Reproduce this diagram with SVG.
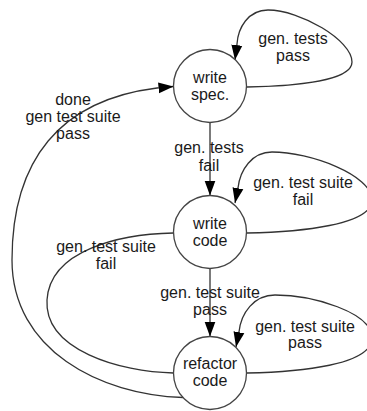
<svg xmlns="http://www.w3.org/2000/svg" width="367" height="411" viewBox="0 0 367 411">
  <defs>
    <style>
      .node circle { fill: #ffffff; stroke: #444444; stroke-width: 1.3; }
      .edge { fill: none; stroke: #333333; stroke-width: 1.3; marker-end: url(#arrow); }
      .plain { fill: none; stroke: #333333; stroke-width: 1.3; }
      text { font-family: "Liberation Sans", Arial, sans-serif; font-size: 16px; fill: #1a1a1a; text-anchor: middle; }
    </style>
    <marker id="arrow" markerUnits="userSpaceOnUse" markerWidth="16" markerHeight="12" refX="15" refY="5.5" orient="auto" viewBox="0 0 16 11">
      <path d="M0,0 L15,5.5 L0,11 Z" fill="#000000"/>
    </marker>
  </defs>

  <!-- connectors -->
  <g id="edges">
    <!-- write spec. -> write code -->
    <path class="edge" d="M210,122.5 L210,195.5"/>
    <!-- write code -> refactor code -->
    <path class="edge" d="M210,268.5 L210,336.5"/>
    <!-- self loop: write spec. -->
    <path class="edge" d="M247,87 C300,86 352,80 352,62 C352,40 300,10 268,10 C248,10 238,28 237,44 L235,60"/>
    <!-- self loop: write code -->
    <path class="edge" d="M247,233 C300,232 372,225 372,200 C372,175 310,152 272,152 C252,152 240,170 238,188 L235,203"/>
    <!-- self loop: refactor code -->
    <path class="edge" d="M247,373 C300,372 372,365 372,338 C372,312 312,295 275,295 C254,295 241,313 239,332 L236,347"/>
    <!-- write code / refactor code, left side -->
    <path class="plain" d="M173.5,233 C120,234 50,250 47,300 C44,350 120,372 173.5,373"/>
    <!-- refactor code -> write spec. -->
    <path class="edge" d="M183,397.5 C100,395 12,350 12,260 C12,160 60,100 157,88 L173.5,86.5"/>
  </g>

  <!-- edge labels -->
  <g id="edge-labels">
    <text x="209" y="153">gen. tests</text>
    <text x="209" y="171">fail</text>
    <text x="210" y="298">gen. test suite</text>
    <text x="210" y="315">pass</text>
    <text x="293" y="44">gen. tests</text>
    <text x="293" y="61">pass</text>
    <text x="303" y="188">gen. test suite</text>
    <text x="303" y="205">fail</text>
    <text x="305" y="332">gen. test suite</text>
    <text x="305" y="348">pass</text>
    <text x="106" y="252">gen. test suite</text>
    <text x="106" y="269">fail</text>
    <text x="73" y="105">done</text>
    <text x="73" y="122">gen test suite</text>
    <text x="73" y="139">pass</text>
  </g>

  <g id="write-spec" class="node">
    <circle cx="210" cy="86" r="36.5"/>
    <text x="210" y="83">write</text>
    <text x="210" y="100">spec.</text>
  </g>
  <g id="write-code" class="node">
    <circle cx="210" cy="232" r="36.5"/>
    <text x="210" y="229">write</text>
    <text x="210" y="246">code</text>
  </g>
  <g id="refactor-code" class="node">
    <circle cx="210" cy="373" r="36.5"/>
    <text x="210" y="369">refactor</text>
    <text x="210" y="386">code</text>
  </g>
</svg>
